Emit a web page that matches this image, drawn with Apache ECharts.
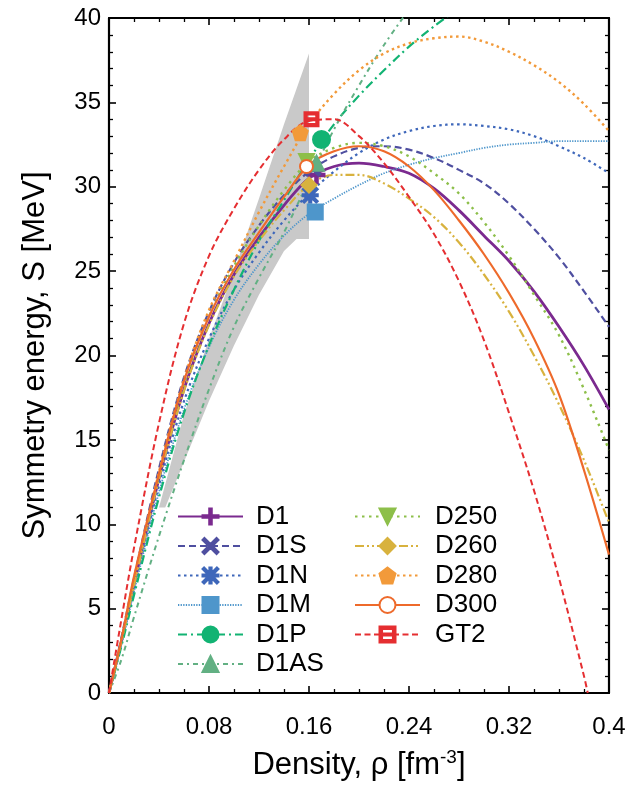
<!DOCTYPE html>
<html><head><meta charset="utf-8">
<script src="https://cdn.jsdelivr.net/npm/echarts/dist/echarts.min.js"></script>
<style>html,body{margin:0;padding:0;background:#fff}#c{width:633px;height:786px}</style>
</head><body><div id="c"></div>
<script>
// ---- data ----
const rho = [0, 0.01, 0.02, 0.04, 0.06, 0.08, 0.10, 0.12, 0.14, 0.16, 0.18, 0.20, 0.22, 0.24, 0.26, 0.28, 0.30, 0.32, 0.34, 0.36, 0.38, 0.40];
const sD1   = [0, 3.1, 6.4, 12.7, 18.0, 21.9, 24.8, 27.0, 28.9, 30.5, 31.2, 31.4, 31.2, 30.8, 29.9, 28.6, 27.1, 25.6, 23.8, 21.7, 19.4, 16.8];
const sD1S  = [0, 3.3, 6.8, 13.3, 18.7, 22.6, 25.5, 27.7, 29.5, 30.9, 31.8, 32.3, 32.4, 32.2, 31.7, 31.0, 30.2, 29.0, 27.5, 25.8, 23.8, 21.7];
const sD1N  = [0, 3.0, 6.2, 12.3, 17.3, 21.0, 23.9, 26.1, 28.0, 29.6, 30.9, 32.0, 32.8, 33.3, 33.6, 33.7, 33.6, 33.4, 33.0, 32.4, 31.7, 30.8];
const sD1M  = [0, 2.9, 6.0, 11.9, 16.8, 20.5, 23.3, 25.4, 27.1, 28.4, 29.3, 30.1, 30.8, 31.3, 31.7, 32.0, 32.3, 32.5, 32.6, 32.7, 32.7, 32.7];
const sD1P  = [0, 2.8, 5.8, 11.6, 16.6, 20.6, 23.9, 26.8, 29.2, 31.6, 33.7, 35.4, 36.9, 38.3, 39.5, 40.6, null, null, null, null, null, null];
const sD1AS = [0, 2.0, 4.5, 9.3, 13.8, 18.0, 21.7, 24.6, 27.3, 30.4, 33.4, 36.0, 38.4, 40.5, null, null, null, null, null, null, null, null];
const sD250 = [0, 3.1, 6.5, 12.9, 18.3, 22.3, 25.3, 27.7, 29.8, 31.5, 32.3, 32.6, 32.4, 31.8, 30.8, 29.6, 27.9, 25.9, 23.6, 21.2, 18.0, 14.4];
const sD260 = [0, 3.1, 6.4, 12.7, 17.9, 21.8, 24.7, 26.8, 28.6, 30.1, 30.7, 30.7, 30.2, 29.3, 28.2, 26.7, 24.8, 22.6, 20.0, 17.1, 13.8, 10.1];
const sD280 = [0, 3.2, 6.6, 13.1, 18.6, 22.7, 25.6, 28.5, 31.2, 33.7, 35.5, 36.9, 37.9, 38.5, 38.8, 38.9, 38.6, 38.0, 37.2, 36.2, 34.9, 33.3];
const sD300 = [0, 3.2, 6.9, 13.0, 18.5, 22.3, 25.1, 27.3, 29.4, 31.3, 32.1, 32.4, 32.1, 31.2, 29.8, 28.0, 26.0, 23.7, 21.0, 17.7, 13.2, 8.2];
const sGT2  = [0, 4.4, 8.6, 16.0, 21.9, 25.9, 28.7, 31.0, 32.8, 33.9, 34.0, 33.0, 31.4, 29.4, 27.2, 24.4, 20.9, 16.6, 12.0, 6.8, 1.0, null];
const gt2TailRho = [0.383];
const gt2TailS = [0];

const seriesNames = ['D1', 'D1S', 'D1N', 'D1M', 'D1P', 'D1AS', 'D250', 'D260', 'D280', 'D300', 'GT2'];
const seriesValues = [sD1, sD1S, sD1N, sD1M, sD1P, sD1AS, sD250, sD260, sD280, sD300, sGT2];
// saturation-point markers (rho0, S0)
const markerRho = [0.166, 0.163, 0.161, 0.165, 0.170, 0.166, 0.158, 0.160, 0.153, 0.158, 0.162];
const markerS   = [30.7, 31.1, 29.5, 28.5, 32.8, 31.4, 31.5, 30.1, 33.2, 31.2, 34.0];

// constraint band (grey)
const bandUpperRho = [0.040, 0.060, 0.080, 0.100, 0.120, 0.140, 0.160];
const bandUpperS   = [11.0, 16.5, 21.0, 25.0, 29.3, 33.7, 37.9];
const bandLowerRho = [0.160, 0.150, 0.140, 0.120, 0.100, 0.080, 0.060, 0.045];
const bandLowerS   = [26.9, 26.9, 26.2, 23.6, 20.6, 17.3, 13.7, 11.0];

// ---- styles ----
const SYM = {
  plus: 'path://M4.2,0H5.8V4.2H10V5.8H5.8V10H4.2V5.8H0V4.2H4.2Z',
  cross: 'path://M1.2,0L5,3.8L8.8,0L10,1.2L6.2,5L10,8.8L8.8,10L5,6.2L1.2,10L0,8.8L3.8,5L0,1.2Z',
  star: 'path://M4.3,0H5.7V10H4.3Z M0,4.3H10V5.7H0Z M1,0L10,9L9,10L0,1Z M9,0L10,1L1,10L0,9Z',
  tdown: 'path://M0,0H10L5,9Z',
  pent: 'path://M5,0L10,3.8L8.1,10L1.9,10L0,3.8Z',
  sqbar: 'path://M0,0H10V10H0Z M1.6,1.6V8.4H8.4V1.6Z M1.6,4.3H8.4V5.7H1.6Z'
};
const STY = [
  {c:'#7B2A8F', t:'solid', w:2.8, s:SYM.plus, z:16},
  {c:'#4F4FA0', t:[7,4], w:2.2, s:SYM.cross, z:15},
  {c:'#3E67BA', t:[2.5,3.5], w:2.2, s:SYM.star, z:15},
  {c:'#4E96CB', t:[1.3,1.3], w:1.8, s:'rect', z:15},
  {c:'#12B373', t:[9,4,2,4], w:2.2, s:'circle', z:17},
  {c:'#62B083', t:[5,4,2,4], w:2.0, s:'triangle', z:15},
  {c:'#8DBF4A', t:[2.5,4.5], w:2.4, s:SYM.tdown, z:15},
  {c:'#D8B23E', t:[9,3,2,3,2,3], w:2.2, s:'diamond', z:15},
  {c:'#F29A3A', t:[2.5,3.5], w:2.4, s:SYM.pent, z:15},
  {c:'#EE6A2B', t:'solid', w:2.2, s:'emptyCircle', z:13},
  {c:'#E52E31', t:[6,3.5], w:2.0, s:SYM.sqbar, z:14}
];

const FONT = '"Liberation Sans", Arial, Helvetica, sans-serif';

const series = [];
series.push({
  type: 'custom',
  name: 'band',
  silent: true,
  z: 1,
  data: [0],
  renderItem: function (params, api) {
    const pts = [];
    for (let i = 0; i < bandUpperRho.length; i++) pts.push(api.coord([bandUpperRho[i], bandUpperS[i]]));
    for (let i = 0; i < bandLowerRho.length; i++) pts.push(api.coord([bandLowerRho[i], bandLowerS[i]]));
    return {type: 'polygon', shape: {points: pts}, style: {fill: '#C9C9C9', stroke: null}};
  }
});

seriesNames.forEach(function (name, k) {
  const st = STY[k];
  const data = [];
  seriesValues[k].forEach(function (v, i) { if (v !== null) data.push([rho[i], v]); });
  if (name === 'GT2') for (let i = 0; i < gt2TailRho.length; i++) data.push([gt2TailRho[i], gt2TailS[i]]);
  series.push({
    type: 'line',
    name: name,
    data: data,
    smooth: 0.35,
    showSymbol: false,
    symbol: st.s,
    symbolSize: st.z,
    clip: true,
    z: 3,
    lineStyle: {color: st.c, width: st.w, type: st.t},
    itemStyle: {color: st.c, borderColor: st.c, borderWidth: 2},
    emphasis: {disabled: true},
    markPoint: {
      symbol: st.s,
      symbolSize: st.z,
      silent: true,
      label: {show: false},
      itemStyle: {color: st.c, borderColor: st.c, borderWidth: 2},
      data: [{coord: [markerRho[k], markerS[k]]}]
    }
  });
});

const tickStyle = {show: true, inside: true, length: 7, lineStyle: {color: '#000', width: 1.6}};
const minorStyle = {show: true, length: 4, lineStyle: {color: '#000', width: 1.3}};
const lineAx = {show: true, onZero: false, lineStyle: {color: '#000', width: 2.2}};

const option = {
  animation: false,
  backgroundColor: '#fff',
  grid: {left: 109, top: 18, width: 500, height: 675, containLabel: false, outerBoundsMode: 'none'},
  xAxis: [{
    type: 'value', min: 0, max: 0.4, interval: 0.08, position: 'bottom',
    axisLine: lineAx, axisTick: tickStyle,
    minorTick: Object.assign({splitNumber: 4}, minorStyle),
    splitLine: {show: false}, minorSplitLine: {show: false},
    axisLabel: {show: true, margin: 22, fontSize: 24, color: '#000', fontFamily: FONT,
      showMinLabel: true, showMaxLabel: true, hideOverlap: false,
      formatter: function (v) { return String(+v.toFixed(2)); }},
    name: 'Density, ρ [fm{sup|-3}]', nameLocation: 'middle', nameGap: 55, nameMoveOverlap: false,
    nameTextStyle: {fontSize: 31, color: '#000', fontFamily: FONT,
      rich: {sup: {fontSize: 19, color: '#000', fontFamily: FONT, padding: [0, 0, 15, 0]}}}
  }, {
    type: 'value', min: 0, max: 0.4, interval: 0.08, position: 'top',
    axisLine: lineAx, axisTick: tickStyle,
    minorTick: Object.assign({splitNumber: 4}, minorStyle),
    splitLine: {show: false}, axisLabel: {show: false}
  }],
  yAxis: [{
    type: 'value', min: 0, max: 40, interval: 5, position: 'left',
    axisLine: lineAx, axisTick: tickStyle,
    minorTick: Object.assign({splitNumber: 5}, minorStyle),
    splitLine: {show: false}, minorSplitLine: {show: false},
    axisLabel: {show: true, margin: 8, fontSize: 24, color: '#000', fontFamily: FONT,
      showMinLabel: true, showMaxLabel: true, hideOverlap: false},
    name: 'Symmetry energy, S [MeV]', nameLocation: 'middle', nameGap: 58, nameMoveOverlap: false,
    nameTextStyle: {fontSize: 31, color: '#000', fontFamily: FONT}
  }, {
    type: 'value', min: 0, max: 40, interval: 5, position: 'right',
    axisLine: lineAx, axisTick: tickStyle,
    minorTick: Object.assign({splitNumber: 5}, minorStyle),
    splitLine: {show: false}, axisLabel: {show: false}
  }],
  legend: [{
    data: seriesNames.slice(0, 6), orient: 'vertical', left: 177, top: 503,
    itemWidth: 65, itemHeight: 20, itemGap: 2.5, padding: 0,
    selectedMode: false,
    textStyle: {fontSize: 26, lineHeight: 27, color: '#000', fontFamily: FONT, padding: [0, 0, 0, 8]}
  }, {
    data: seriesNames.slice(6), orient: 'vertical', left: 354, top: 503,
    itemWidth: 65, itemHeight: 20, itemGap: 2.5, padding: 0,
    selectedMode: false,
    textStyle: {fontSize: 26, lineHeight: 27, color: '#000', fontFamily: FONT, padding: [0, 0, 0, 10]}
  }],
  series: series
};

const chart = echarts.init(document.getElementById('c'), null, {renderer: 'canvas'});
chart.setOption(option);
</script>
</body></html>
